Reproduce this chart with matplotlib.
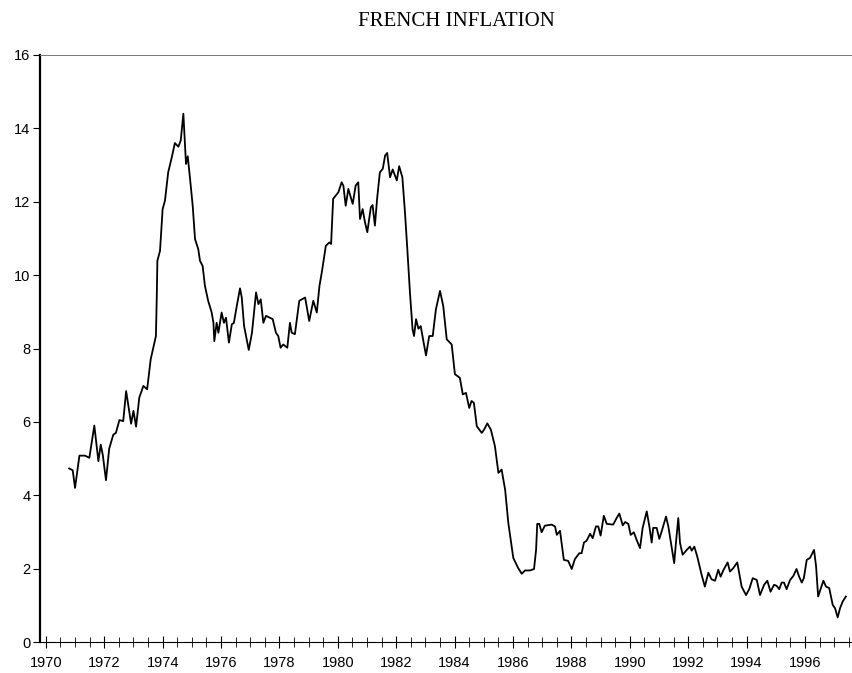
import numpy as np
import matplotlib
matplotlib.use("Agg")
import matplotlib.pyplot as plt
from matplotlib.ticker import MultipleLocator

# French inflation (% yoy)
years = [1970.80, 1970.92, 1971.00, 1971.15, 1971.34, 1971.49, 1971.66, 1971.80, 1971.88, 1971.95,
         1972.06, 1972.17, 1972.31, 1972.40, 1972.52, 1972.65, 1972.75, 1972.92, 1973.00, 1973.09,
         1973.20, 1973.34, 1973.47, 1973.59, 1973.77, 1973.80, 1973.82, 1973.91, 1974.00, 1974.08,
         1974.19, 1974.31, 1974.42, 1974.54, 1974.62, 1974.71, 1974.74, 1974.80, 1974.86, 1974.94,
         1975.03, 1975.11, 1975.22, 1975.28, 1975.37, 1975.45, 1975.56, 1975.68, 1975.74, 1975.77,
         1975.85, 1975.91, 1976.02, 1976.10, 1976.17, 1976.27, 1976.37, 1976.44, 1976.54, 1976.65,
         1976.71, 1976.79, 1976.95, 1977.06, 1977.20, 1977.28, 1977.36, 1977.45, 1977.54, 1977.77,
         1977.88, 1977.96, 1978.04, 1978.13, 1978.27, 1978.36, 1978.42, 1978.53, 1978.68, 1978.88,
         1979.02, 1979.16, 1979.28, 1979.37, 1979.45, 1979.59, 1979.71, 1979.77, 1979.84, 1980.02,
         1980.13, 1980.19, 1980.27, 1980.36, 1980.51, 1980.61, 1980.70, 1980.76, 1980.85, 1980.93,
         1981.01, 1981.13, 1981.19, 1981.27, 1981.35, 1981.44, 1981.54, 1981.62, 1981.69, 1981.79,
         1981.88, 1982.02, 1982.10, 1982.21, 1982.30, 1982.38, 1982.47, 1982.56, 1982.61, 1982.68,
         1982.76, 1982.84, 1982.93, 1983.02, 1983.13, 1983.25, 1983.36, 1983.50, 1983.61, 1983.73,
         1983.90, 1984.01, 1984.18, 1984.28, 1984.39, 1984.50, 1984.58, 1984.66, 1984.76, 1984.93,
         1985.01, 1985.12, 1985.24, 1985.38, 1985.50, 1985.61, 1985.73, 1985.84, 1985.92, 1986.01,
         1986.18, 1986.30, 1986.41, 1986.58, 1986.72, 1986.79, 1986.83, 1986.90, 1986.98, 1987.09,
         1987.32, 1987.44, 1987.50, 1987.61, 1987.74, 1987.89, 1988.01, 1988.12, 1988.27, 1988.35,
         1988.43, 1988.52, 1988.64, 1988.73, 1988.84, 1988.92, 1989.00, 1989.11, 1989.21, 1989.43,
         1989.55, 1989.64, 1989.76, 1989.84, 1989.95, 1990.03, 1990.14, 1990.23, 1990.35, 1990.44,
         1990.58, 1990.67, 1990.75, 1990.80, 1990.92, 1991.01, 1991.09, 1991.24, 1991.32, 1991.43,
         1991.52, 1991.58, 1991.66, 1991.72, 1991.81, 1991.95, 1992.06, 1992.12, 1992.21, 1992.31,
         1992.46, 1992.57, 1992.69, 1992.80, 1992.92, 1993.03, 1993.11, 1993.20, 1993.35, 1993.43,
         1993.54, 1993.68, 1993.83, 1993.98, 1994.09, 1994.21, 1994.35, 1994.46, 1994.60, 1994.71,
         1994.82, 1994.94, 1995.03, 1995.12, 1995.20, 1995.28, 1995.37, 1995.49, 1995.60, 1995.71,
         1995.80, 1995.89, 1995.96, 1996.06, 1996.17, 1996.31, 1996.38, 1996.45, 1996.63, 1996.72,
         1996.83, 1996.95, 1997.03, 1997.12, 1997.20, 1997.29, 1997.40]
inflation = [4.73, 4.68, 4.20, 5.08, 5.08, 5.02, 5.90, 4.93, 5.38, 5.10,
             4.41, 5.27, 5.65, 5.70, 6.05, 6.02, 6.84, 5.95, 6.30, 5.87,
             6.66, 6.98, 6.89, 7.70, 8.34, 9.43, 10.39, 10.66, 11.80, 12.03,
             12.80, 13.20, 13.60, 13.50, 13.67, 14.40, 13.94, 13.03, 13.24, 12.62,
             11.89, 10.98, 10.71, 10.39, 10.25, 9.70, 9.30, 8.98, 8.70, 8.20,
             8.70, 8.43, 8.98, 8.70, 8.84, 8.16, 8.66, 8.70, 9.16, 9.64,
             9.39, 8.61, 7.96, 8.43, 9.53, 9.21, 9.34, 8.70, 8.89, 8.80,
             8.43, 8.34, 8.02, 8.11, 8.02, 8.70, 8.43, 8.39, 9.30, 9.39,
             8.75, 9.30, 8.98, 9.70, 10.07, 10.80, 10.89, 10.85, 12.08, 12.26,
             12.53, 12.44, 11.89, 12.35, 11.94, 12.44, 12.53, 11.53, 11.80, 11.44,
             11.17, 11.85, 11.91, 11.35, 12.12, 12.80, 12.90, 13.26, 13.33, 12.67,
             12.88, 12.58, 12.97, 12.67, 11.71, 10.71, 9.53, 8.52, 8.34, 8.80,
             8.54, 8.61, 8.20, 7.81, 8.34, 8.34, 9.07, 9.57, 9.16, 8.25,
             8.11, 7.30, 7.20, 6.75, 6.79, 6.38, 6.57, 6.52, 5.88, 5.70,
             5.79, 5.96, 5.79, 5.34, 4.61, 4.70, 4.15, 3.24, 2.79, 2.29,
             2.01, 1.86, 1.95, 1.95, 1.99, 2.51, 3.22, 3.22, 2.99, 3.17,
             3.20, 3.15, 2.92, 3.03, 2.24, 2.21, 1.99, 2.26, 2.42, 2.42,
             2.71, 2.76, 2.95, 2.83, 3.15, 3.15, 2.90, 3.44, 3.22, 3.20,
             3.38, 3.50, 3.18, 3.27, 3.22, 2.92, 2.99, 2.79, 2.56, 3.11,
             3.56, 3.15, 2.71, 3.11, 3.11, 2.81, 3.01, 3.42, 3.15, 2.61,
             2.15, 2.70, 3.38, 2.70, 2.38, 2.51, 2.60, 2.49, 2.60, 2.33,
             1.83, 1.51, 1.89, 1.71, 1.67, 1.97, 1.78, 1.95, 2.17, 1.92,
             2.01, 2.17, 1.51, 1.28, 1.44, 1.74, 1.69, 1.28, 1.56, 1.67,
             1.37, 1.56, 1.53, 1.44, 1.62, 1.62, 1.44, 1.69, 1.80, 1.99,
             1.78, 1.62, 1.74, 2.24, 2.29, 2.51, 2.06, 1.24, 1.67, 1.51,
             1.47, 1.01, 0.92, 0.67, 0.92, 1.10, 1.24]

year_labels = list(range(1970, 1997, 2))
y_ticks = list(range(0, 17, 2))

tick_font = ['Liberation Sans Narrow', 'Liberation Sans', 'DejaVu Sans']

fig = plt.figure(figsize=(8.52, 6.73), dpi=100)
ax = fig.add_axes([40/852, 31/673, 812/852, 587/673])

ax.plot(years, inflation, color='black', lw=1.3)

ax.set_xlim(1969.8, 1997.61)
ax.set_ylim(0, 16)

ax.spines['right'].set_visible(False)
ax.spines['top'].set_color('#777777')
ax.spines['top'].set_linewidth(0.7)
ax.spines['left'].set_linewidth(1.6)
ax.spines['bottom'].set_linewidth(0.8)

ax.set_xticks(year_labels)
ax.set_xticklabels([str(y) for y in year_labels], family=tick_font, fontsize=10.5)
ax.xaxis.set_minor_locator(MultipleLocator(0.5))
ax.tick_params(axis='x', which='major', direction='inout', length=8, width=0.8, pad=6)
ax.tick_params(axis='x', which='minor', direction='inout', length=7, width=0.6)

ax.set_yticks(y_ticks)
ax.set_yticklabels([str(v) for v in y_ticks], family=tick_font, fontsize=10.5)
ax.tick_params(axis='y', direction='out', length=5, width=0.8, pad=2)

fig.text(456/852, 1 - 22/673, 'FRENCH INFLATION', family=['Liberation Serif', 'DejaVu Serif'],
         fontsize=15, ha='center', va='center')

fig.savefig('out.png', dpi=100)
